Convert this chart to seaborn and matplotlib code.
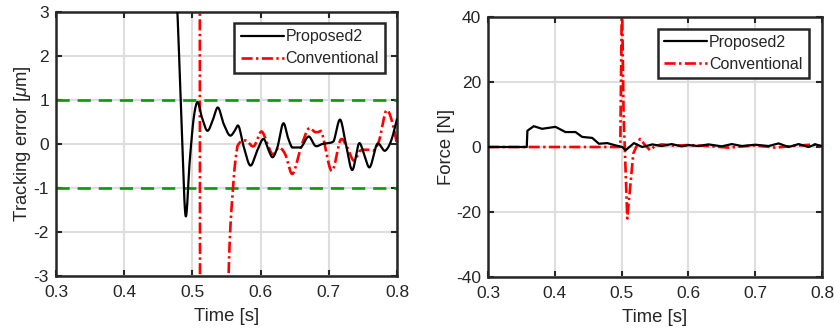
import matplotlib
matplotlib.use("Agg")
import matplotlib.pyplot as plt
import seaborn as sns
import pandas as pd
import numpy as np

# ---- Data: tracking error [um] ----
err_prop_t = [0.300, 0.470, 0.478, 0.484, 0.490, 0.496, 0.502, 0.507, 0.514, 0.522, 0.530,
              0.537, 0.546, 0.556, 0.562, 0.567, 0.575, 0.585, 0.595, 0.605, 0.612, 0.617,
              0.624, 0.634, 0.640, 0.646, 0.659, 0.671, 0.680, 0.690, 0.707, 0.717, 0.725,
              0.734, 0.745, 0.752, 0.759, 0.771, 0.783, 0.792, 0.800]
err_prop_y = [8.0, 5.0, 3.0, 0.5, -1.63, -0.4, 0.6, 0.95, 0.6, 0.30, 0.55,
              0.83, 0.45, 0.19, 0.30, 0.42, -0.05, -0.49, -0.15, 0.11, -0.15, -0.30,
              -0.11, 0.47, 0.15, -0.08, -0.08, 0.17, -0.04, 0.0, 0.06, 0.55, 0.0,
              -0.59, 0.02, -0.25, -0.53, 0.0, -0.15, 0.1, 0.57]

err_conv_t = [0.300, 0.505, 0.5105, 0.5115, 0.530, 0.545, 0.553, 0.5595, 0.566, 0.578,
              0.590, 0.602, 0.610, 0.617, 0.627, 0.636, 0.646, 0.659, 0.671, 0.680,
              0.688, 0.705, 0.718, 0.727, 0.737, 0.746, 0.756, 0.766, 0.773, 0.785,
              0.793, 0.800]
err_conv_y = [20.0, 20.0, 10.0, -10.0, -20.0, -10.0, -3.0, -1.0, -0.05, 0.08,
              -0.05, 0.28, 0.0, -0.23, -0.08, -0.23, -0.68, -0.08, 0.36, 0.27,
              0.30, -0.61, 0.11, -0.08, -0.38, -0.15, -0.13, -0.15, 0.04, 0.77,
              0.5, 0.0]

# ---- Data: force [N] ----
f_prop_t = [0.300, 0.358, 0.359, 0.363, 0.3685, 0.381, 0.401, 0.416, 0.431, 0.441,
            0.456, 0.466, 0.4785, 0.491, 0.501, 0.506, 0.5185, 0.531, 0.546, 0.56,
            0.575, 0.59, 0.60, 0.615, 0.63, 0.65, 0.665, 0.68, 0.70, 0.72, 0.735,
            0.75, 0.765, 0.78, 0.79, 0.800]
f_prop_y = [0.0, 0.0, 5.0, 5.6, 6.4, 5.6, 6.2, 4.6, 4.6, 3.1,
            2.8, 1.0, 1.2, 0.5, 0.0, -1.0, 1.2, 0.0, 0.8, 0.3,
            0.9, 0.2, 0.6, 0.3, 0.8, 0.2, 0.9, 0.3, 0.7, 0.3, 1.1,
            0.0, 0.9, 0.0, 0.8, 0.3]

f_conv_t = [0.300, 0.498, 0.5005, 0.503, 0.5085, 0.5175, 0.5275, 0.5355, 0.5425, 0.550,
            0.560, 0.580, 0.600, 0.630, 0.660, 0.700, 0.730, 0.760, 0.790, 0.800]
f_conv_y = [0.0, 0.0, 48.0, 10.0, -22.0, -2.0, 2.5, 0.5, -1.0, 0.3,
            0.8, 0.4, 0.6, 0.3, -0.2, 0.5, -0.2, 0.4, 0.8, 0.0]

limit_levels = [1, -1]

sns.set_theme(style="whitegrid")
plt.rcParams['font.family'] = ['Liberation Sans', 'DejaVu Sans']
plt.rcParams['mathtext.fontset'] = 'custom'
plt.rcParams['mathtext.it'] = 'Liberation Sans:italic'
plt.rcParams['mathtext.rm'] = 'Liberation Sans'

DARK = '#262626'
GRID = '#dedede'
GREEN = '#00a000'

fig = plt.figure(figsize=(8.34, 3.33), dpi=100)
ax1 = fig.add_axes([56/834, 1-276/333, (397-56)/834, (276-12)/333])
ax2 = fig.add_axes([488/834, 1-277/333, (822-488)/834, (277-17)/333])

df_e1 = pd.DataFrame({'t': err_prop_t, 'y': err_prop_y})
df_e2 = pd.DataFrame({'t': err_conv_t, 'y': err_conv_y})
df_f1 = pd.DataFrame({'t': f_prop_t, 'y': f_prop_y})
df_f2 = pd.DataFrame({'t': f_conv_t, 'y': f_conv_y})

def smooth(df, n=600):
    t = np.asarray(df['t']); y = np.asarray(df['y'])
    tt = np.linspace(t[0], t[-1], n * 4)
    d = np.gradient(y, t)
    idx = np.clip(np.searchsorted(t, tt) - 1, 0, len(t) - 2)
    t0 = t[idx]; t1 = t[idx + 1]; h = t1 - t0
    s = (tt - t0) / h
    y0 = y[idx]; y1 = y[idx + 1]; m0 = d[idx] * h; m1 = d[idx + 1] * h
    delta = (y1 - y0)
    m0 = np.where(np.abs(m0) > 3 * np.abs(delta), 3 * delta, m0)
    m1 = np.where(np.abs(m1) > 3 * np.abs(delta), 3 * delta, m1)
    h00 = 2*s**3 - 3*s**2 + 1; h10 = s**3 - 2*s**2 + s
    h01 = -2*s**3 + 3*s**2; h11 = s**3 - s**2
    yy = h00*y0 + h10*m0 + h01*y1 + h11*m1
    return pd.DataFrame({'t': tt, 'y': yy})

red_dash = (0, (4.2, 1.3, 0.9, 1.3))

# ---- Left plot ----
for lv in limit_levels:
    ax1.axhline(lv, color=GREEN, lw=1.9, ls=(0, (5, 3)), zorder=1.5)
sns.lineplot(data=smooth(df_e1), x='t', y='y', ax=ax1, color='black', lw=1.6,
             sort=False, estimator=None, label='Proposed2', zorder=3)
sns.lineplot(data=smooth(df_e2), x='t', y='y', ax=ax1, color='red', lw=1.9,
             sort=False, estimator=None, label='Conventional', zorder=2)
ax1.lines[-1].set_linestyle(red_dash)
ax1.set_xlim(0.3, 0.8)
ax1.set_ylim(-3, 3)
ax1.set_xticks([0.3, 0.4, 0.5, 0.6, 0.7, 0.8])
ax1.set_xticklabels(['0.3', '0.4', '0.5', '0.6', '0.7', '0.8'])
ax1.set_yticks([-3, -2, -1, 0, 1, 2, 3])
ax1.set_yticklabels(['-3', '-2', '-1', '0', '1', '2', '3'])
ax1.set_xlabel('Time [s]')
ax1.set_ylabel(r'Tracking error [$\mu$m]')

# ---- Right plot ----
sns.lineplot(data=df_f1, x='t', y='y', ax=ax2, color='black', lw=1.6,
             sort=False, estimator=None, label='Proposed2', zorder=3)
sns.lineplot(data=df_f2, x='t', y='y', ax=ax2, color='red', lw=1.9,
             sort=False, estimator=None, label='Conventional', zorder=2)
ax2.lines[-1].set_linestyle(red_dash)
ax2.set_xlim(0.3, 0.8)
ax2.set_ylim(-40, 40)
ax2.set_xticks([0.3, 0.4, 0.5, 0.6, 0.7, 0.8])
ax2.set_xticklabels(['0.3', '0.4', '0.5', '0.6', '0.7', '0.8'])
ax2.set_yticks([-40, -20, 0, 20, 40])
ax2.set_yticklabels(['-40', '-20', '0', '20', '40'])
ax2.set_xlabel('Time [s]')
ax2.set_ylabel('Force [N]')

for ax in (ax1, ax2):
    ax.set_facecolor('white')
    ax.grid(True, color=GRID, lw=1.5)
    ax.set_axisbelow(True)
    for sp in ax.spines.values():
        sp.set_color(DARK)
        sp.set_linewidth(1.8)
        sp.set_visible(True)
    ax.tick_params(direction='in', length=4, width=1.5, color=DARK,
                   labelcolor=DARK, labelsize=12.5, top=True, right=True,
                   bottom=True, left=True)
    ax.tick_params(axis='x', pad=6.5)
    ax.tick_params(axis='y', pad=5)
    ax.xaxis.label.set_color(DARK)
    ax.yaxis.label.set_color(DARK)
    ax.xaxis.label.set_size(13.3)
    ax.yaxis.label.set_size(13.3)
    ax.xaxis.labelpad = 5.5
    ax.yaxis.labelpad = 0.5
    leg = ax.legend(loc='upper right', fontsize=11.5, frameon=True, fancybox=False,
                    handlelength=2.7, handletextpad=0.1, borderpad=0.4,
                    labelspacing=0.42, borderaxespad=0.0,
                    bbox_to_anchor=(0.965, 0.958) if ax is ax1 else (0.96, 0.955))
    fr = leg.get_frame()
    fr.set_edgecolor(DARK)
    fr.set_linewidth(1.8)
    fr.set_facecolor('white')
    fr.set_alpha(1)

fig.savefig('out.png', dpi=100)
